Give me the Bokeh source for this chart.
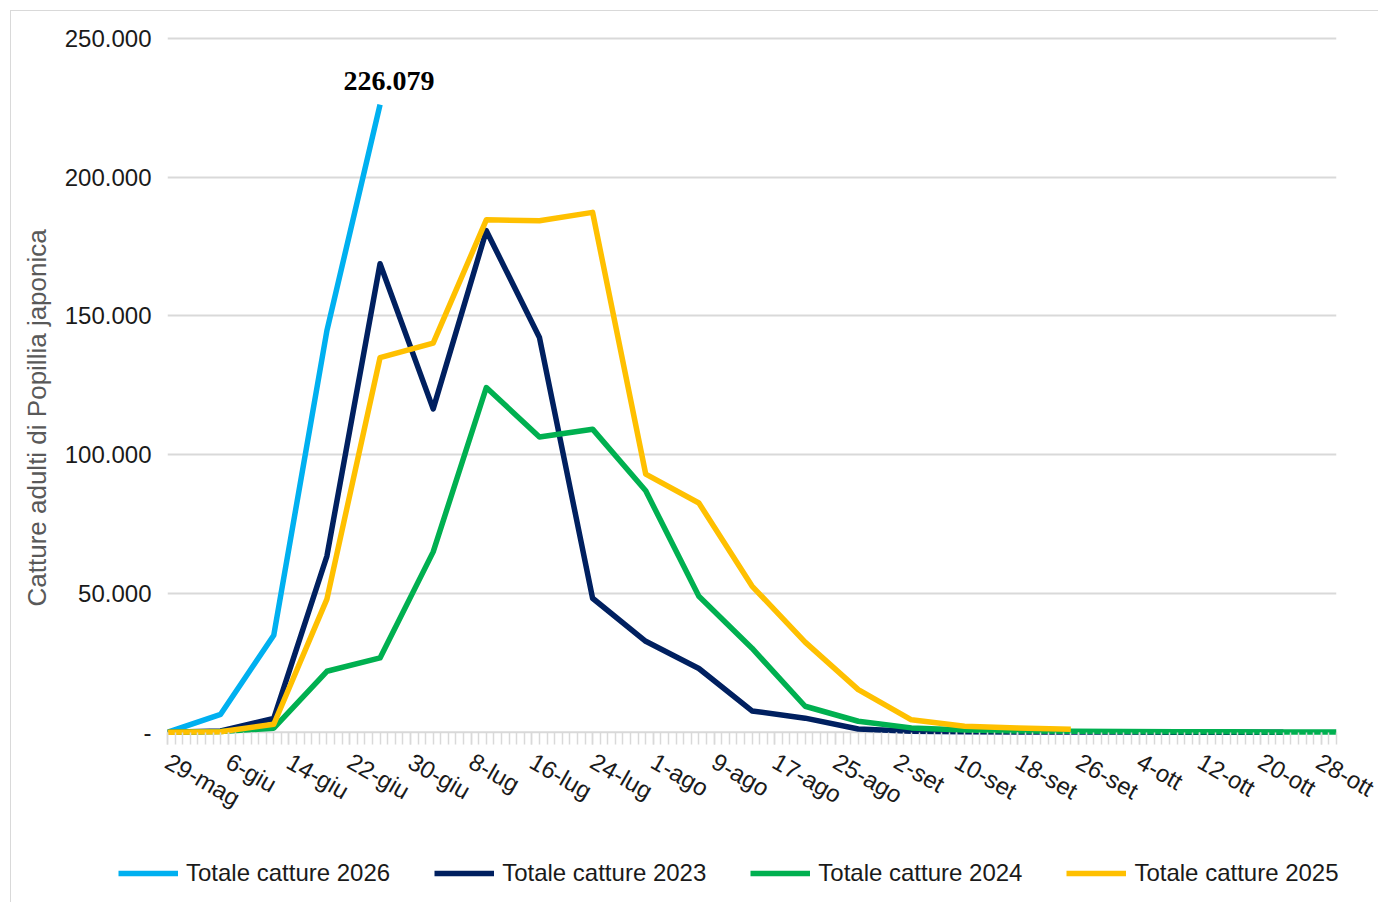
import pandas as pd
from bokeh.plotting import figure
from bokeh.models import FixedTicker, Legend, LegendItem, Title, Range1d, Span
from bokeh.core.properties import value
from bokeh.embed import file_html
from bokeh.resources import INLINE

# ---- data ----
dates = ["2025-05-29", "2025-06-05", "2025-06-12", "2025-06-19", "2025-06-26",
         "2025-07-03", "2025-07-10", "2025-07-17", "2025-07-24", "2025-07-31",
         "2025-08-07", "2025-08-14", "2025-08-21", "2025-08-28", "2025-09-04",
         "2025-09-11", "2025-09-18", "2025-09-25", "2025-10-02", "2025-10-09",
         "2025-10-16", "2025-10-23", "2025-10-30"]

tick_dates = ["2025-05-29", "2025-06-06", "2025-06-14", "2025-06-22", "2025-06-30",
              "2025-07-08", "2025-07-16", "2025-07-24", "2025-08-01", "2025-08-09",
              "2025-08-17", "2025-08-25", "2025-09-02", "2025-09-10", "2025-09-18",
              "2025-09-26", "2025-10-04", "2025-10-12", "2025-10-20", "2025-10-28"]
tick_labels = ["29-mag", "6-giu", "14-giu", "22-giu", "30-giu", "8-lug", "16-lug",
               "24-lug", "1-ago", "9-ago", "17-ago", "25-ago", "2-set", "10-set",
               "18-set", "26-set", "4-ott", "12-ott", "20-ott", "28-ott"]

series_names = ["Totale catture 2026", "Totale catture 2023",
                "Totale catture 2024", "Totale catture 2025"]
catture_2026 = [0, 6500, 35000, 144700, 226079]
catture_2023 = [0, 500, 5000, 63500, 168800, 116500, 180700, 142200, 48300, 32800,
                23000, 7700, 5100, 1200, 400, 200, 150, 100, 80, 50, 30, 20]
catture_2024 = [0, 300, 1500, 22000, 26800, 65000, 124200, 106400, 109200, 87000,
                49000, 30300, 9400, 4000, 1600, 800, 500, 400, 300, 250, 200, 150, 100]
catture_2025 = [0, 200, 2900, 48000, 135000, 140200, 184600, 184300, 187300, 93000,
                82600, 52700, 32500, 15400, 4500, 2200, 1600, 1100]
series_values = [catture_2026, catture_2023, catture_2024, catture_2025]
colors = ["#00B0F0", "#002060", "#00B050", "#FFC000"]

y_ticks = [0, 50000, 100000, 150000, 200000, 250000]
y_tick_labels = ["-", "50.000", "100.000", "150.000", "200.000", "250.000"]
y_title = "Catture adulti di Popillia japonica"


def ms(d):
    return pd.Timestamp(d).value / 1e6


x_all = [ms(d) for d in dates]
FONT = "Liberation Sans"
GREY = "#d9d9d9"
TXT = "#1a1a1a"

p = figure(width=1368, height=830, output_backend="svg", toolbar_location=None,
           x_axis_type="datetime",
           x_range=Range1d(x_all[0], x_all[-1]),
           y_range=Range1d(-1500, 251000),
           min_border_left=156, min_border_right=43,
           min_border_top=24, min_border_bottom=105,
           styles={"border-left": "1px solid " + GREY,
                   "border-top": "1px solid " + GREY,
                   "margin-left": "10px", "margin-top": "10px"})
p.outline_line_color = None
p.background_fill_color = "white"
p.border_fill_color = "white"

# x axis
day_ticks = [ms(d) for d in pd.date_range(dates[0], dates[-1], freq="D")]
tick_ms = [ms(d) for d in tick_dates]
xa = p.xaxis[0]
xa.ticker = FixedTicker(ticks=tick_ms, minor_ticks=day_ticks)
xa.major_label_overrides = {t: lab for t, lab in zip(tick_ms, tick_labels)}
xa.axis_line_color = None
xa.major_tick_line_color = GREY
xa.minor_tick_line_color = GREY
xa.major_tick_line_width = 1.5
xa.minor_tick_line_width = 1.5
xa.major_tick_out = 8
xa.major_tick_in = 4
xa.minor_tick_out = 8
xa.minor_tick_in = 4
xa.major_label_orientation = -0.52
xa.major_label_standoff = 15
xa.major_label_text_font = FONT
xa.major_label_text_font_size = "24px"
xa.major_label_text_color = TXT

# zero baseline
p.add_layout(Span(location=0, dimension="width", line_color=GREY,
                  line_width=2, level="underlay"))

# y axis
ya = p.yaxis[0]
ya.ticker = FixedTicker(ticks=y_ticks)
ya.major_label_overrides = {t: lab for t, lab in zip(y_ticks, y_tick_labels)}
ya.axis_line_color = None
ya.major_tick_line_color = None
ya.minor_tick_line_color = None
ya.major_tick_out = 0
ya.major_label_standoff = 16
ya.major_label_text_font = FONT
ya.major_label_text_font_size = "24px"
ya.major_label_text_color = TXT

p.xgrid.visible = False
p.ygrid.ticker = FixedTicker(ticks=y_ticks[1:])
p.ygrid.grid_line_color = GREY
p.ygrid.grid_line_width = 2

# lines
for name, vals, col in zip(series_names, series_values, colors):
    p.line(x_all[:len(vals)], vals, line_color=col, line_width=5.5,
           line_join="round")

# peak label of 2026
peak_x = x_all[len(catture_2026) - 1]
peak_v = catture_2026[-1]
p.text(x=[peak_x], y=[peak_v], text=[f"{peak_v:,}".replace(",", ".")],
       text_font=value("Liberation Serif"), text_font_style="bold",
       text_font_size="28px", text_color="black",
       text_align="center", text_baseline="alphabetic",
       x_offset=9, y_offset=-24)

p.add_layout(Title(text=y_title, align="left", offset=130,
                   vertical_align="top",
                   text_font=FONT, text_font_size="26px",
                   text_font_style="normal", text_color="#595959",
                   standoff=16), "left")

# ---- legend strip (separate root, so it is not aligned to the plot frame) ----
lg = figure(width=1368, height=62, output_backend="svg", toolbar_location=None,
            x_axis_location=None, y_axis_location=None,
            x_range=Range1d(0, 1), y_range=Range1d(0, 1),
            min_border_left=0, min_border_right=0,
            min_border_top=0, min_border_bottom=0,
            styles={"border-left": "1px solid " + GREY, "margin-left": "10px"})
lg.outline_line_color = None
lg.xgrid.visible = False
lg.ygrid.visible = False
items = []
for name, col in zip(series_names, colors):
    r = lg.line([float("nan")], [float("nan")], line_color=col, line_width=5.5)
    items.append(LegendItem(label=name, renderers=[r]))
legend = Legend(items=items, orientation="horizontal", location=(107, 15),
                glyph_width=60, glyph_height=20, label_standoff=8, spacing=44,
                label_text_font=FONT, label_text_font_size="24px",
                label_text_color=TXT,
                border_line_color=None, background_fill_alpha=0,
                padding=0, margin=0)
lg.add_layout(legend, "center")

open("out.html", "w").write(file_html([p, lg], INLINE))
